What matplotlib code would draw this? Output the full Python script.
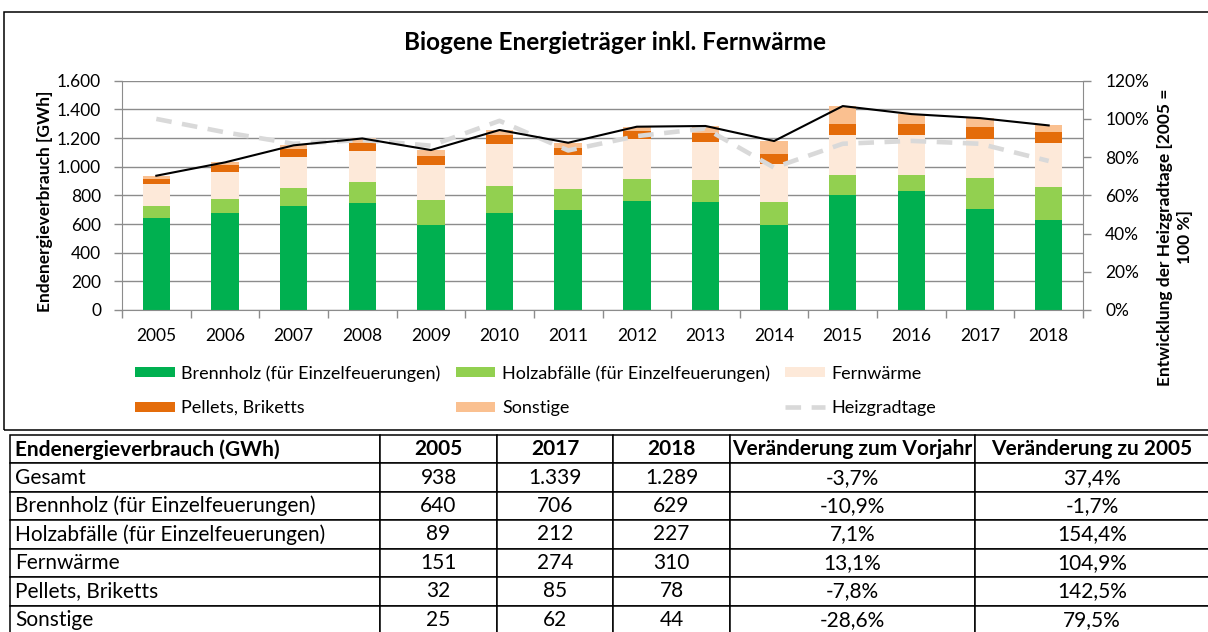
import matplotlib
matplotlib.use("Agg")
import matplotlib.pyplot as plt
import numpy as np
from matplotlib.lines import Line2D
from matplotlib.patches import Patch, Rectangle
from matplotlib.table import Table
from matplotlib.ticker import FuncFormatter

plt.rcParams["font.family"] = ["Lato", "DejaVu Sans"]

# --- chart data (GWh) ---
years = [str(y) for y in range(2005, 2019)]
brennholz = [640, 679, 726, 747, 595, 679, 700, 758, 751, 595, 805, 833, 706, 629]
holzabfaelle = [89, 93, 125, 146, 172, 188, 144, 158, 154, 161, 137, 109, 212, 227]
fernwaerme = [151, 193, 214, 219, 245, 293, 237, 275, 265, 265, 281, 277, 274, 310]
pellets = [32, 47, 61, 55, 62, 63, 49, 56, 67, 65, 75, 79, 85, 78]
sonstige = [25, 18, 23, 30, 42, 33, 37, 32, 47, 93, 125, 69, 62, 44]
# heating degree days, 2005 = 100 %
heizgradtage = [100, 93, 87, 89, 86, 99, 83.5, 91, 95, 74.5, 87, 88.5, 87, 78]

series_names = [
    "Brennholz (für Einzelfeuerungen)",
    "Holzabfälle (für Einzelfeuerungen)",
    "Fernwärme",
    "Pellets, Briketts",
    "Sonstige",
]
series_colors = ["#00b050", "#92d050", "#fde9d9", "#e46c0a", "#fac090"]

# --- table data ---
table_header = ["Endenergieverbrauch (GWh)", "2005", "2017", "2018",
                "Veränderung zum Vorjahr", "Veränderung zu 2005"]
table_labels = ["Gesamt"] + series_names
col_2005 = ["938", "640", "89", "151", "32", "25"]
col_2017 = ["1.339", "706", "212", "274", "85", "62"]
col_2018 = ["1.289", "629", "227", "310", "78", "44"]
col_vorjahr = ["-3,7%", "-10,9%", "7,1%", "13,1%", "-7,8%", "-28,6%"]
col_zu_2005 = ["37,4%", "-1,7%", "154,4%", "104,9%", "142,5%", "79,5%"]

W, H = 1208, 632
GRID = "#8c8c8c"
HGT_DASHES = (3.4, 2.3)


def fx(px):
    return px / W


def fy(py):
    return 1 - py / H


fig = plt.figure(figsize=(W / 100, H / 100), dpi=100)

# chart area frame
fig.patches.append(Rectangle((fx(4), fy(430)), fx(1215 - 4), (430 - 12) / H,
                             transform=fig.transFigure, fill=False,
                             edgecolor="black", linewidth=1.1))

fig.text(fx(615), fy(42), "Biogene Energieträger inkl. Fernwärme",
         ha="center", va="center", fontsize=17.5, fontweight="bold")

ax = fig.add_axes([fx(122), fy(310), fx(1083 - 122), (310 - 80.7) / H])
ax2 = ax.twinx()
ax2.set_ylim(0, 120)

x = np.arange(len(years))
bottom = np.zeros(len(years))
for vals, color in zip([brennholz, holzabfaelle, fernwaerme, pellets, sonstige], series_colors):
    ax.bar(x, vals, 0.4, bottom=bottom, color=color, zorder=2)
    bottom = bottom + np.array(vals)

# heating degree days use the secondary scale but sit between bars and total line
ax.plot(x, heizgradtage, transform=ax2.transData, color="#d9d9d9",
        linewidth=3.3, dashes=HGT_DASHES, zorder=4)
ax.plot(x, bottom, color="black", linewidth=1.5, zorder=5)

ax.set_xlim(-0.5, len(years) - 0.5)
ax.set_ylim(0, 1600)
ax.set_yticks(np.arange(0, 1601, 200))
ax.yaxis.set_major_formatter(FuncFormatter(lambda v, _: f"{v:,.0f}".replace(",", ".")))
ax.set_xticks(x)
ax.set_xticklabels(years)
ax.set_xticks(np.arange(-0.5, len(years), 1), minor=True)
ax.tick_params(axis="x", which="major", length=0, pad=13, labelsize=12.5)
ax.tick_params(axis="x", which="minor", length=6, color=GRID, width=1)
ax.tick_params(axis="y", length=6, color=GRID, width=1, pad=9, labelsize=12.5)
ax.yaxis.grid(True, color=GRID, linewidth=1.0)
ax.set_axisbelow(True)
for side in ["top", "right"]:
    ax.spines[side].set_visible(False)
for side in ["left", "bottom"]:
    ax.spines[side].set_color(GRID)

ax2.set_yticks(np.arange(0, 121, 20))
ax2.yaxis.set_major_formatter(FuncFormatter(lambda v, _: f"{v:.0f}%"))
ax2.tick_params(axis="y", length=6, color=GRID, width=1, pad=10, labelsize=12.5)
for side in ["top", "left", "bottom"]:
    ax2.spines[side].set_visible(False)
ax2.spines["right"].set_color(GRID)

fig.text(fx(45), fy(201), "Endenergieverbrauch [GWh]", rotation=90,
         ha="center", va="center", fontsize=12.5, fontweight="bold")
fig.text(fx(1175), fy(237), "Entwicklung der Heizgradtage [2005 =\n100 %]", rotation=90,
         ha="center", va="center", multialignment="center", linespacing=1.3,
         fontsize=12.5, fontweight="bold")

# legend, filled column by column to get the reference's row order
patches = [Patch(facecolor=c, edgecolor="none") for c in series_colors]
dash = Line2D([], [], color="#d9d9d9", linewidth=3.3, dashes=HGT_DASHES)
handles = [patches[0], patches[3], patches[1], patches[4], patches[2], dash]
labels = [series_names[0], series_names[3], series_names[1], series_names[4],
          series_names[2], "Heizgradtage"]
fig.legend(handles, labels, ncol=3, loc="upper left", bbox_to_anchor=(fx(135), fy(365)),
           frameon=False, fontsize=13, handlelength=2.2, handleheight=0.48,
           handletextpad=0.37, columnspacing=0.83, labelspacing=1.02,
           borderpad=0, borderaxespad=0)

# summary table below the chart
col_px = [370, 117, 116, 117, 245, 234]
tax = fig.add_axes([fx(10), fy(634), fx(sum(col_px)), 199 / H])
tax.axis("off")
tbl = Table(tax, bbox=[0, 0, 1, 1])
columns = [table_labels, col_2005, col_2017, col_2018, col_vorjahr, col_zu_2005]
n_rows = len(table_labels) + 1
for c, width in enumerate(col_px):
    cells = [table_header[c]] + columns[c]
    for r, txt in enumerate(cells):
        cell = tbl.add_cell(r, c, width / sum(col_px), 1 / n_rows, text=txt,
                            loc="left" if c == 0 else "center", edgecolor="black")
        cell.set_linewidth(1.1)
        cell.PAD = 5 / width
        cell.get_text().set_fontsize(15)
        if r == 0:
            cell.get_text().set_fontweight("bold")
tbl.auto_set_font_size(False)
tax.add_table(tbl)

fig.savefig("out.png", dpi=100)
